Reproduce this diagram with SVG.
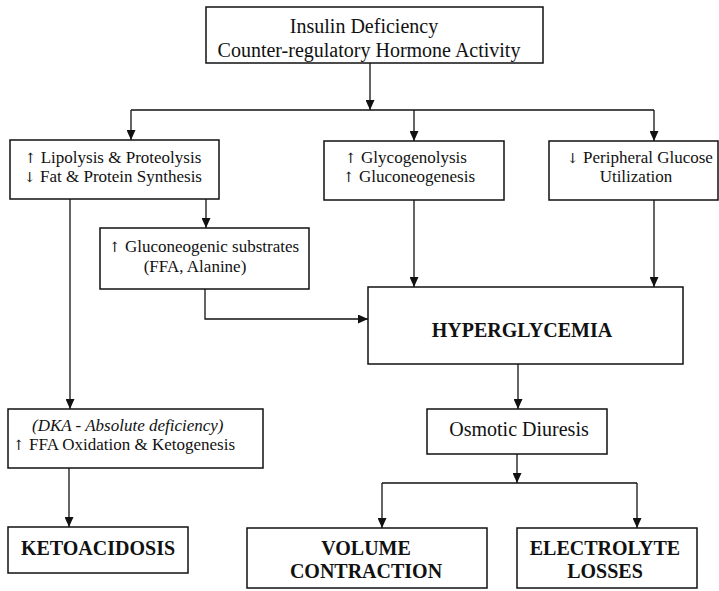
<svg xmlns="http://www.w3.org/2000/svg" width="719" height="591" viewBox="0 0 719 591">
<style>
.box{fill:#fff;stroke:#111;stroke-width:1.5}
.t{font-family:"Liberation Serif","Times New Roman",serif;font-size:17px;fill:#111;text-anchor:middle}
.big{font-size:20px}
.b{font-family:"Liberation Serif","Times New Roman",serif;font-weight:bold;font-size:20px;fill:#111;text-anchor:middle}
.ar{font-family:"DejaVu Serif","DejaVu Sans",serif;font-size:14px;fill:#111}
.c{fill:none;stroke:#111;stroke-width:1.3}
</style>
<defs>
<marker id="ah" markerUnits="userSpaceOnUse" markerWidth="10" markerHeight="9" refX="10" refY="4.5" orient="auto">
<path d="M0,0 L10,4.5 L0,9 z" fill="#111"/>
</marker>
</defs>
<g id="connectors">
<path class="c" d="M370,63 V110" marker-end="url(#ah)"/>
<path class="c" d="M131,110 H654"/>
<path class="c" d="M131,110 V140" marker-end="url(#ah)"/>
<path class="c" d="M414,110 V141" marker-end="url(#ah)"/>
<path class="c" d="M654,110 V141" marker-end="url(#ah)"/>
<path class="c" d="M206,199 V228" marker-end="url(#ah)"/>
<path class="c" d="M70,199 V409" marker-end="url(#ah)"/>
<path class="c" d="M205,289 V319 H368" marker-end="url(#ah)"/>
<path class="c" d="M414,200 V287" marker-end="url(#ah)"/>
<path class="c" d="M654,200 V287" marker-end="url(#ah)"/>
<path class="c" d="M518,364 V409" marker-end="url(#ah)"/>
<path class="c" d="M517,454 V483" marker-end="url(#ah)"/>
<path class="c" d="M382,483 H637"/>
<path class="c" d="M382,483 V528" marker-end="url(#ah)"/>
<path class="c" d="M637,483 V528" marker-end="url(#ah)"/>
<path class="c" d="M69,468 V527" marker-end="url(#ah)"/>
</g>
<g id="top">
<rect class="box" x="206" y="7" width="337" height="56"/>
<text class="t big" x="364" y="33">Insulin Deficiency</text>
<text class="t big" x="369" y="57">Counter-regulatory Hormone Activity</text>
</g>
<g id="lipolysis">
<rect class="box" x="10" y="140" width="209" height="59"/>
<text class="t" x="113" y="163"><tspan class="ar">↑</tspan> Lipolysis &amp; Proteolysis</text>
<text class="t" x="113" y="182"><tspan class="ar">↓</tspan> Fat &amp; Protein Synthesis</text>
</g>
<g id="glycogenolysis">
<rect class="box" x="324" y="141" width="180" height="59"/>
<text class="t" x="406" y="163"><tspan class="ar">↑</tspan> Glycogenolysis</text>
<text class="t" x="409" y="182"><tspan class="ar">↑</tspan> Gluconeogenesis</text>
</g>
<g id="peripheral">
<rect class="box" x="549" y="141" width="169" height="59"/>
<text class="t" x="640" y="163"><tspan class="ar">↓</tspan> Peripheral Glucose</text>
<text class="t" x="636" y="182">Utilization</text>
</g>
<g id="substrates">
<rect class="box" x="100" y="228" width="209" height="61"/>
<text class="t" x="204" y="252"><tspan class="ar">↑</tspan> Gluconeogenic substrates</text>
<text class="t" x="195" y="272">(FFA, Alanine)</text>
</g>
<g id="hyperglycemia">
<rect class="box" x="368" y="287" width="315" height="77"/>
<text class="b" x="522" y="337">HYPERGLYCEMIA</text>
</g>
<g id="osmotic">
<rect class="box" x="427" y="409" width="180" height="45"/>
<text class="t big" x="519" y="436">Osmotic Diuresis</text>
</g>
<g id="dka">
<rect class="box" x="8" y="409" width="255" height="59"/>
<text class="t" x="32" y="431" style="text-anchor:start;font-style:italic">(DKA - Absolute deficiency)</text>
<text class="t" x="13" y="450" style="text-anchor:start"><tspan class="ar">↑</tspan> FFA Oxidation &amp; Ketogenesis</text>
</g>
<g id="ketoacidosis">
<rect class="box" x="8" y="527" width="180" height="46"/>
<text class="b" x="98" y="555">KETOACIDOSIS</text>
</g>
<g id="volume">
<rect class="box" x="247" y="528" width="240" height="60"/>
<text class="b" x="366" y="555">VOLUME</text>
<text class="b" x="366" y="578">CONTRACTION</text>
</g>
<g id="electrolyte">
<rect class="box" x="517" y="528" width="180" height="60"/>
<text class="b" x="605" y="555">ELECTROLYTE</text>
<text class="b" x="605" y="578">LOSSES</text>
</g>
</svg>
